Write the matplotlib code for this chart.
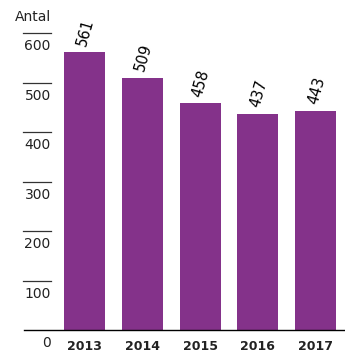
import matplotlib
matplotlib.use("Agg")
import matplotlib.pyplot as plt
import matplotlib.transforms as mtransforms

years = ["2013", "2014", "2015", "2016", "2017"]
values = [561, 509, 458, 437, 443]
yticks = [0, 100, 200, 300, 400, 500, 600]
ylabel = "Antal"

PURPLE = "#84328A"
TXT = "#222222"

W, H = 345, 354
fig = plt.figure(figsize=(W / 100, H / 100), dpi=100)
ax = fig.add_axes([22 / W, 24 / H, 323 / W, 330 / H])
ax.set_xlim(-1.082, 4.51)
ax.set_ylim(0, 667)
ax.axis("off")

xs = list(range(len(years)))
ax.bar(xs, values, width=0.71, color=PURPLE, zorder=2)

PT = 0.72  # points per pixel at 100 dpi

# value labels rotated
for x, v in zip(xs, values):
    ax.annotate(str(v), (x, v), xytext=(1 * PT, 5 * PT), textcoords="offset points",
                rotation=74, ha="center", va="bottom", fontsize=10.5, color="black")

# year labels
for x, y in zip(xs, years):
    ax.annotate(y, (x, 0), xytext=(0, -17 * PT), textcoords="offset points",
                ha="center", va="center", fontsize=9, fontweight="bold", color=TXT)

# left tick lines and labels
tr = mtransforms.blended_transform_factory(fig.transFigure, ax.transData)
x0, x1 = 22.7 / W, 50.7 / W
for t in yticks:
    if t > 0:
        ax.plot([x0, x1], [t, t], transform=tr, color="#333333", lw=0.9,
                clip_on=False, zorder=3)
    ax.text(x1, t, str(t),
            transform=tr + mtransforms.ScaledTranslation(0, -13 / 100, fig.dpi_scale_trans),
            ha="right", va="center", fontsize=10, color=TXT)

# baseline
ax.plot([24 / W, 1.0], [0, 0], transform=tr, color="black", lw=1.0,
        clip_on=False, zorder=3)

fig.text(51 / W, 1 - 17 / H, ylabel, ha="right", va="center", fontsize=10, color=TXT)

fig.savefig("out.png", dpi=100)
